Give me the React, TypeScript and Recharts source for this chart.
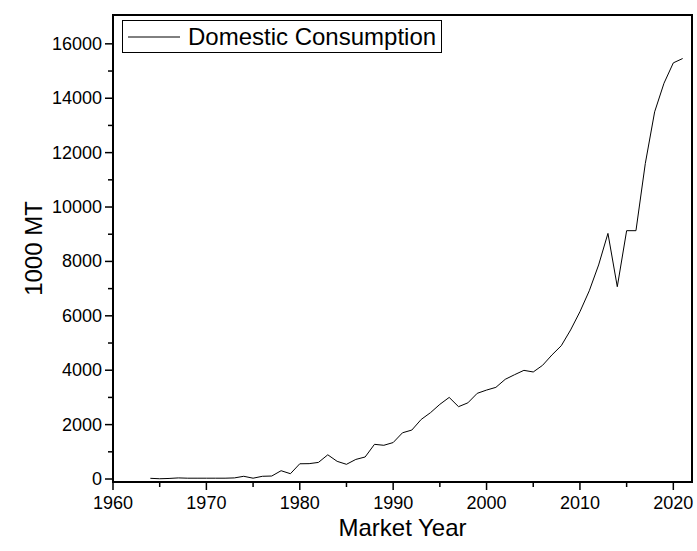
import { LineChart, Line, XAxis, YAxis, Legend, ReferenceArea, Label } from 'recharts'

const years = [
  1964, 1965, 1966, 1967, 1968, 1969, 1970, 1971, 1972, 1973,
  1974, 1975, 1976, 1977, 1978, 1979, 1980, 1981, 1982, 1983,
  1984, 1985, 1986, 1987, 1988, 1989, 1990, 1991, 1992, 1993,
  1994, 1995, 1996, 1997, 1998, 1999, 2000, 2001, 2002, 2003,
  2004, 2005, 2006, 2007, 2008, 2009, 2010, 2011, 2012, 2013,
  2014, 2015, 2016, 2017, 2018, 2019, 2020, 2021,
]

// 1000 MT
const consumption = [
  25, 10, 20, 40, 30, 30, 30, 30, 30, 40,
  100, 30, 100, 110, 305, 195, 560, 565, 610, 890,
  650, 540, 720, 810, 1275, 1240, 1340, 1700, 1800, 2190,
  2440, 2745, 3000, 2660, 2800, 3150, 3270, 3370, 3665, 3835,
  3995, 3935, 4180, 4560, 4900, 5480, 6150, 6920, 7870, 9030,
  7070, 9130, 9130, 11600, 13500, 14550, 15300, 15460,
]

const xTicks = [1960, 1965, 1970, 1975, 1980, 1985, 1990, 1995, 2000, 2005, 2010, 2015, 2020]
const yTicks = [
  0, 1000, 2000, 3000, 4000, 5000, 6000, 7000, 8000,
  9000, 10000, 11000, 12000, 13000, 14000, 15000, 16000,
]

const data = years.map((year, i) => ({ year, value: consumption[i] }))

const FONT = '"Liberation Sans", Arial, sans-serif'

function XTick({ x, y, payload }: any) {
  const major = payload.value % 10 === 0
  return (
    <g>
      <line x1={x} x2={x} y1={y} y2={y + (major ? 8 : 5)} stroke="#000" strokeWidth={1.5} />
      {major && (
        <text x={x} y={y + 27} textAnchor="middle" fontSize={18} fontFamily={FONT} fill="#000">
          {payload.value}
        </text>
      )}
    </g>
  )
}

function YTick({ x, y, payload }: any) {
  const major = payload.value % 2000 === 0
  return (
    <g>
      <line x1={x} x2={x - (major ? 8 : 5)} y1={y} y2={y} stroke="#000" strokeWidth={1.5} />
      {major && (
        <text x={x - 11} y={y + 6} textAnchor="end" fontSize={18} fontFamily={FONT} fill="#000">
          {payload.value}
        </text>
      )}
    </g>
  )
}

function LegendBox() {
  return (
    <div
      style={{
        display: 'inline-flex',
        alignItems: 'center',
        border: '1px solid #000',
        background: '#fff',
        padding: '2px 5px 2px 5px',
        fontFamily: FONT,
        fontSize: 24,
        lineHeight: '27px',
        color: '#000',
      }}
    >
      <svg width={52} height={10} style={{ display: 'block' }}>
        <line x1={0} x2={52} y1={5} y2={5} stroke="#000" strokeWidth={1} />
      </svg>
      <span style={{ marginLeft: 8 }}>Domestic Consumption</span>
    </div>
  )
}

export default function App() {
  return (
    <div style={{ position: 'absolute', left: 0, top: 0, width: 697, height: 551, background: '#fff' }}>
      <LineChart width={697} height={551} data={data} margin={{ top: 15, right: 5, bottom: 0, left: 0 }}>
        <XAxis
          dataKey="year"
          type="number"
          domain={[1960, 2022]}
          ticks={xTicks}
          interval={0}
          height={69}
          tickSize={0}
          tickMargin={0}
          tickLine={false}
          tick={<XTick />}
          axisLine={{ stroke: '#000', strokeWidth: 2 }}
        >
          <Label
            content={({ viewBox }: any) => (
              <text
                x={viewBox.x + viewBox.width / 2}
                y={viewBox.y + 54}
                textAnchor="middle"
                fontSize={24}
                fontFamily={FONT}
                fill="#000"
              >
                Market Year
              </text>
            )}
          />
        </XAxis>
        <YAxis
          type="number"
          domain={[-110, 17060]}
          ticks={yTicks}
          interval={0}
          width={113}
          tickSize={0}
          tickMargin={0}
          tickLine={false}
          tick={<YTick />}
          axisLine={{ stroke: '#000', strokeWidth: 2 }}
        >
          <Label
            content={({ viewBox }: any) => {
              const cx = 42
              const cy = viewBox.y + viewBox.height / 2
              return (
                <text
                  x={cx}
                  y={cy}
                  transform={`rotate(-90 ${cx} ${cy})`}
                  textAnchor="middle"
                  fontSize={24}
                  fontFamily={FONT}
                  fill="#000"
                >
                  1000 MT
                </text>
              )
            }}
          />
        </YAxis>
        <ReferenceArea x1={1960} x2={2022} y1={-110} y2={17060} fill="none" stroke="#000" strokeWidth={2} />
        <Legend
          layout="vertical"
          align="center"
          verticalAlign="middle"
          content={<LegendBox />}
          wrapperStyle={{ left: 122, top: 20, width: 'auto', height: 'auto' }}
        />
        <Line
          type="linear"
          dataKey="value"
          stroke="#000"
          strokeWidth={1}
          dot={false}
          isAnimationActive={false}
        />
      </LineChart>
    </div>
  )
}
